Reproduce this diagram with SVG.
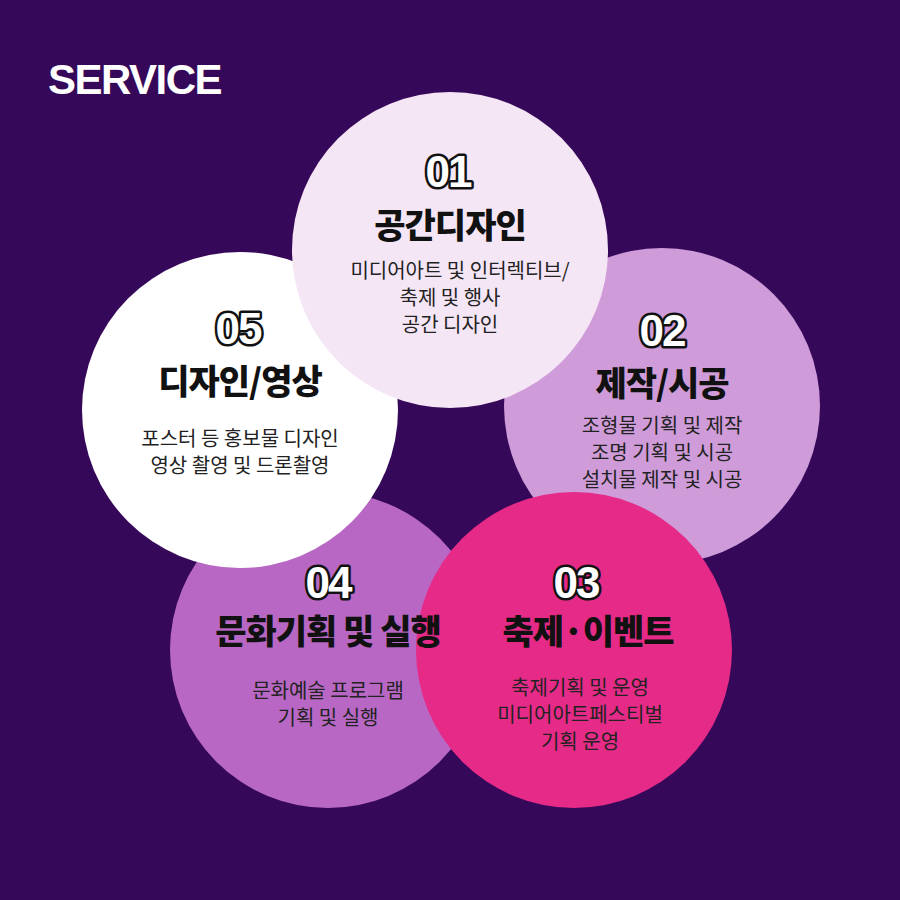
<svg xmlns="http://www.w3.org/2000/svg" width="900" height="900" viewBox="0 0 900 900">
<style>
.num{font-family:"Liberation Sans",Roboto,sans-serif;font-weight:700;font-size:44px;fill:#fff;stroke:#111;stroke-width:5;paint-order:stroke;stroke-linejoin:round;text-anchor:middle;letter-spacing:-2px}
.t{font-family:"Noto Sans CJK KR",sans-serif;font-weight:900;font-size:34px;fill:#111;text-anchor:middle;letter-spacing:-1px}
.d{font-family:"Noto Sans CJK KR",sans-serif;font-weight:400;font-size:20px;fill:#222;text-anchor:middle}
</style>
<rect width="900" height="900" fill="#36085a"/>
<text x="48" y="94" font-family="Liberation Sans,Arial,sans-serif" font-weight="700" font-size="42" letter-spacing="-1.5" fill="#fff">SERVICE</text>
<g id="circles">
<circle cx="328" cy="650" r="158" fill="#b868c4"/>
<circle cx="662" cy="406" r="158" fill="#cf9cd9"/>
<circle cx="574" cy="650" r="158" fill="#e52a87"/>
<circle cx="240" cy="410" r="158" fill="#fff"/>
<circle cx="450" cy="250" r="158" fill="#f5e6f6"/>
</g>
<g id="n04"><text class="num" x="328" y="598">04</text><text class="t" x="328" y="644">문화기획 및 실행</text>
<text class="d" x="328" y="698">문화예술 프로그램</text><text class="d" x="328" y="725">기획 및 실행</text></g>
<g id="n02"><text class="num" x="662" y="346">02</text><text class="t" x="662" y="396">제작/시공</text>
<text class="d" x="662" y="433">조형물 기획 및 제작</text><text class="d" x="662" y="460">조명 기획 및 시공</text><text class="d" x="662" y="487">설치물 제작 및 시공</text></g>
<g id="n03"><text class="num" x="576" y="598">03</text><text class="t" x="588" y="644">축제·이벤트</text>
<text class="d" x="580" y="695">축제기획 및 운영</text><text class="d" x="580" y="722">미디어아트페스티벌</text><text class="d" x="580" y="749">기획 운영</text></g>
<g id="n05"><text class="num" x="238" y="344">05</text><text class="t" x="240" y="394">디자인/영상</text>
<text class="d" x="240" y="446">포스터 등 홍보물 디자인</text><text class="d" x="240" y="473">영상 촬영 및 드론촬영</text></g>
<g id="n01"><text class="num" x="448" y="187">01</text><text class="t" x="450" y="238">공간디자인</text>
<text class="d" x="460" y="278">미디어아트 및 인터렉티브/</text><text class="d" x="450" y="305">축제 및 행사</text><text class="d" x="450" y="332">공간 디자인</text></g>
<g id="connectors"/>
</svg>
